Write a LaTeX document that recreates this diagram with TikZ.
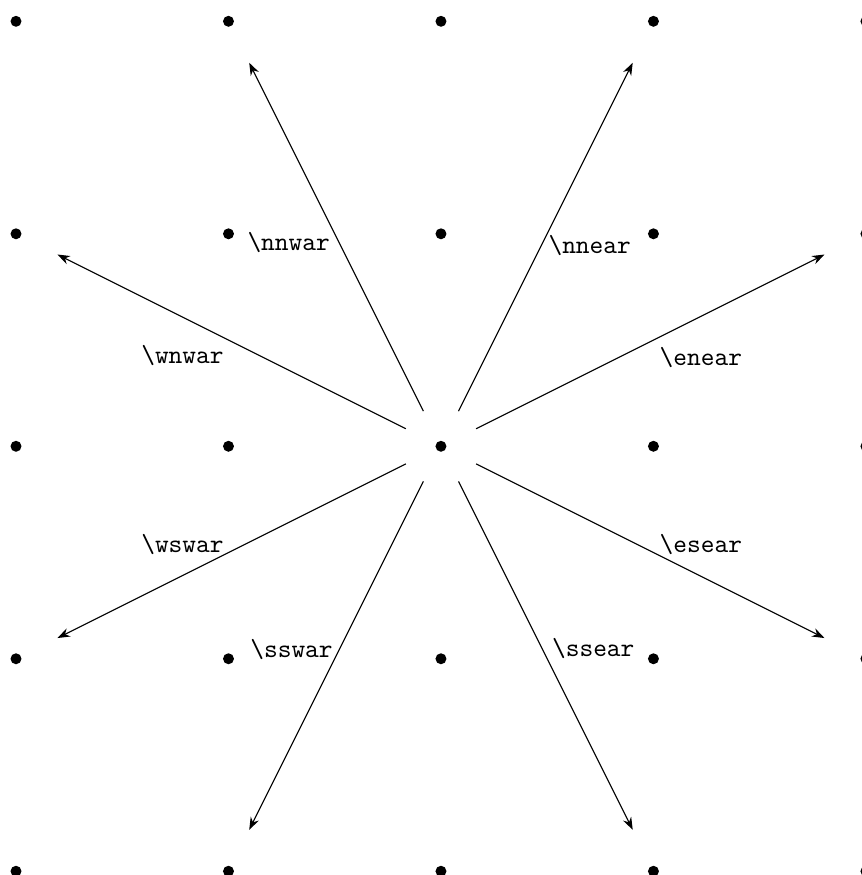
\documentclass[tikz,border=0pt]{standalone}
\usetikzlibrary{arrows.meta}
\begin{document}
\begin{tikzpicture}[
  dot/.style={circle,fill=black,inner sep=0pt,minimum size=0.155cm},
  lbl/.style={font=\fontsize{10.5}{12}\selectfont\ttfamily,inner sep=0pt},
  arr/.style={-{Stealth[length=5pt,width=3.6pt]},line width=0.45pt,shorten <=0.47cm,shorten >=0.57cm}
]
\useasboundingbox (-6.226,-6.053) rectangle (5.944,6.301);
\foreach \i/\x in {0/-6,1/-3,2/0,3/3,4/6}{
  \foreach \j/\y in {0/-6,1/-3,2/0,3/3,4/6}{
    \node[dot] (d\i\j) at (\x,\y) {};
  }
}
% center is d22
\draw[arr] (d22) -- (d14);
\draw[arr] (d22) -- (d34);
\draw[arr] (d22) -- (d03);
\draw[arr] (d22) -- (d43);
\draw[arr] (d22) -- (d01);
\draw[arr] (d22) -- (d41);
\draw[arr] (d22) -- (d10);
\draw[arr] (d22) -- (d30);
\node[lbl] (lnnw) at (-2.15,2.87) {\textbackslash nnwar};
\node[lbl] (lnne) at (2.10,2.83) {\textbackslash nnear};
\node[lbl] (lwnw) at (-3.65,1.275) {\textbackslash wnwar};
\node[lbl] (lene) at (3.67,1.26) {\textbackslash enear};
\node[lbl] (lwsw) at (-3.65,-1.393) {\textbackslash wswar};
\node[lbl] (lese) at (3.67,-1.393) {\textbackslash esear};
\node[lbl] (lssw) at (-2.11,-2.876) {\textbackslash sswar};
\node[lbl] (lsse) at (2.15,-2.862) {\textbackslash ssear};
\end{tikzpicture}
\end{document}
